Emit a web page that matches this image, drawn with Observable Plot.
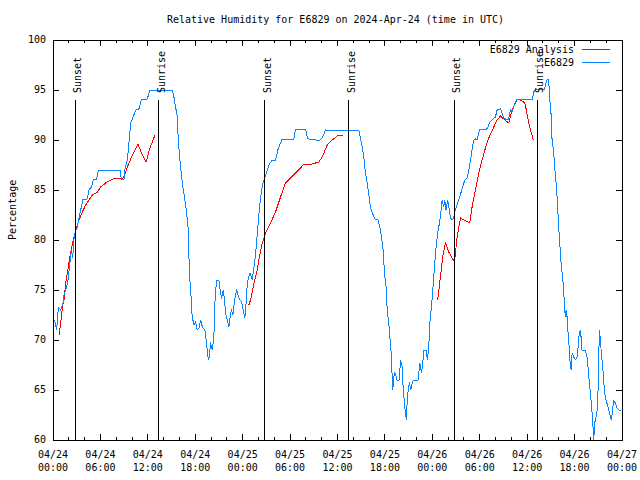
<!DOCTYPE html>
<html><head><meta charset="utf-8">
<script src="https://cdn.jsdelivr.net/npm/d3@7"></script>
<script src="https://cdn.jsdelivr.net/npm/@observablehq/plot@0.6"></script>
<style>
body{margin:0;background:#fff;}
#chart{width:640px;height:480px;}
svg{display:block;}
</style></head><body><div id="chart"></div>
<script>
const title = "Relative Humidity for E6829 on 2024-Apr-24 (time in UTC)";
const yLabel = "Percentage";
const seriesNames = ["E6829 Analysis", "E6829"];
const seriesColors = ["#ff0000", "#0a84ff"];

// time axis: hours since 2024-04-24 00:00 UTC
const xMajorHours = [0,6,12,18,24,30,36,42,48,54,60,66,72];
const xTickLabels = ["04/24\n00:00","04/24\n06:00","04/24\n12:00","04/24\n18:00",
  "04/25\n00:00","04/25\n06:00","04/25\n12:00","04/25\n18:00",
  "04/26\n00:00","04/26\n06:00","04/26\n12:00","04/26\n18:00","04/27\n00:00"];
const xMinorHours = [0,2,4,6,8,10,12,14,16,18,20,22,24,26,28,30,32,34,36,38,40,42,44,46,48,50,52,54,56,58,60,62,64,66,68,70,72];
const yTicks = [60,65,70,75,80,85,90,95,100];

// sun events
const sunHours = [2.79, 13.41, 26.81, 37.43, 50.84, 61.33];
const sunLabels = ["Sunset","Sunrise","Sunset","Sunrise","Sunset","Sunrise"];

// E6829 observations
const obsHours = [0.21,0.46,0.68,0.96,1.26,1.39,1.73,1.9,2.14,2.32,2.49,2.65,2.78,3.08,3.41,3.71,3.79,4.35,4.55,4.85,5.11,5.53,5.74,8.47,8.65,8.98,9.07,9.41,9.61,9.83,10.04,10.46,10.87,11.17,11.93,12.26,15.09,15.3,15.51,15.73,15.85,16.06,16.27,16.49,16.69,16.91,17.12,17.2,17.32,17.5,17.63,17.76,17.83,18.05,18.26,18.47,18.68,18.9,19.22,19.43,19.6,19.72,19.94,20.15,20.36,20.45,20.57,20.7,20.99,21.21,21.33,21.55,21.71,21.84,22.05,22.26,22.47,22.6,22.76,22.98,23.23,23.52,23.86,24.07,24.28,24.5,24.58,24.91,25.21,25.51,25.76,25.92,26.14,26.35,26.56,26.81,27.12,27.32,27.75,28.17,28.45,28.79,29.01,30.48,30.69,31.96,32.18,32.59,33.0,33.64,34.07,34.48,36.59,38.7,38.91,39.13,39.33,39.54,39.75,39.95,40.17,40.38,40.71,41.15,41.35,41.56,41.78,41.94,42.16,42.29,42.49,42.62,42.79,42.92,43.0,43.12,43.25,43.43,43.54,43.84,43.96,44.18,44.3,44.47,44.6,44.72,44.81,44.94,45.1,45.27,45.45,45.61,46.21,46.41,46.63,46.79,46.92,47.22,47.38,47.55,47.68,47.89,48.06,48.18,48.3,48.48,48.68,48.9,49.02,49.24,49.44,49.57,49.74,49.95,50.16,50.29,50.51,50.71,50.84,51.05,51.34,51.65,51.85,52.1,52.41,52.61,52.83,53.03,53.23,53.45,53.66,53.99,54.72,55.01,55.26,55.57,55.98,56.2,56.62,56.83,57.04,57.47,57.66,57.88,58.09,58.29,58.51,58.72,60.63,60.83,61.04,62.21,62.39,62.56,62.72,62.81,62.94,63.06,63.15,63.36,63.48,63.66,63.79,63.91,64.04,64.2,64.33,64.49,64.62,64.75,64.84,64.93,65.05,65.18,65.31,65.44,65.56,65.69,65.89,66.1,66.31,66.44,66.6,66.73,66.86,66.94,67.36,67.57,67.7,67.87,68.0,68.12,68.29,68.42,68.54,68.72,68.85,68.97,69.05,69.14,69.26,69.39,69.56,69.67,69.8,69.98,70.23,70.43,70.65,70.81,70.94,71.16,71.37,71.58,71.9];
const obsValues = [72,71,73.3,73,73.7,74.5,75.3,76,77.7,79,78.2,80,80.7,81.3,82.7,83.7,84.1,84.1,85,85.3,86,86.1,87,87,86.1,86,87,88,89.7,91.7,92.1,93,93.1,94,94.1,95,95,94.3,93.3,92.3,90,88,86.3,85,84,82.7,81,78.3,76,74,72,72,71.5,71.8,71,71.2,72,71.3,71,69.7,68.3,68,69.7,69,70.3,73.3,74.7,76,76,74.7,74.2,75,74,72.7,72,71.3,72.7,73,72.5,74,75,74.2,73.8,73,72.2,74.3,75.7,76.7,76,77.7,79.7,81.3,83.3,84.7,85.7,86.3,87,87.5,88,88,89,89.7,90.1,90.1,91.1,91.1,90.2,90,90.1,89.9,90.2,91,90.9,91,90.2,89.3,88.3,86.7,85.7,84.7,83.2,82.8,82.1,82,81.3,80.3,79,76.7,75.3,73,71.7,70.3,68.7,66.3,65,66.3,66.8,66.3,66,66,68,67.3,65.3,63.7,62.7,62,63.7,65,65.7,65,65.7,66,66,67.7,66.7,67.7,69,69,68,69.3,71.7,73.3,75,76.3,77.7,79.3,80.7,81.7,82.3,84,83.3,84,83,84,83,82.2,82,82.2,82.8,83.3,84,84.8,85.3,86,86.2,87,88,89,90,90.1,90,91.1,91,91.2,91.8,92,92.3,93,93.1,92.7,92.2,92,92.1,93,92.8,93.3,93.8,94.1,94,94.8,95.1,95.1,95.7,96.1,96.1,94.7,93.3,92.3,90,88.7,87.3,85.7,84.3,82.5,80.7,78.8,77.3,76.3,75,73,72.3,73,72.3,70.7,69.3,67.7,67,68.7,68.3,68,68.3,69.3,70.7,71,70,69,69,68.3,67.3,65.7,64.7,63.7,62,60,61.7,62.3,63,65,68,71,70,68.7,67.3,66,64.7,64,63.3,62.7,62,63,64,63.7,63.2,63,63];

// E6829 Analysis (three segments)
const ana1Hours = [0.76,0.97,1.19,1.39,1.61,1.82,2.02,2.23,2.49,2.78,3.28,3.71,4.13,4.55,4.98,5.62,6.03,6.66,7.29,7.93,8.9,9.41,10.04,10.74,11.3,11.81,12.26,12.86];
const ana1Values = [70.5,71.7,73.3,74,75.7,76.7,77.8,78.7,79.7,80.7,82,82.8,83.5,84,84.5,84.8,85.3,85.7,86,86.2,86.2,87.3,88.5,89.6,88.5,87.8,89.2,90.4];
const ana2Hours = [24.78,25.0,25.42,25.85,26.05,26.48,26.9,27.52,28.16,28.79,29.42,30.06,30.69,31.33,31.74,32.81,33.64,34.07,34.7,35.33,35.96,36.72];
const ana2Values = [73.5,74,75.6,77,78,79.7,80.7,81.7,82.8,84.3,85.7,86.2,86.7,87.2,87.6,87.6,87.8,88.3,89.5,90,90.4,90.5];
const ana3Hours = [48.68,49.02,49.31,49.66,50.07,50.51,50.8,51.14,51.56,51.98,52.74,53.03,53.45,53.87,54.3,54.72,55.14,55.77,56.2,56.62,57.04,57.66,58.09,58.51,58.72,59.36,59.69,59.9,60.07,60.32,60.71,60.79];
const ana3Values = [74,76.3,78.3,79.7,78.8,78.2,77.8,80.3,82.2,82,81.7,83.3,85,86.7,88,89.2,90.2,91.3,92,92.4,92.1,91.7,93,93.7,94.1,93.9,93.7,93,92.2,91.3,90.2,90];

const t0 = Date.UTC(2024, 3, 24);
const toDate = h => new Date(t0 + h * 3600e3);

const obs = obsHours.map((h, i) => ({t: toDate(h), v: obsValues[i]}));
const ana = [
  ...ana1Hours.map((h, i) => ({t: toDate(h), v: ana1Values[i], seg: 1})),
  ...ana2Hours.map((h, i) => ({t: toDate(h), v: ana2Values[i], seg: 2})),
  ...ana3Hours.map((h, i) => ({t: toDate(h), v: ana3Values[i], seg: 3}))
];
const sun = sunHours.map((h, i) => ({t: toDate(h), label: sunLabels[i]}));
const majorDates = xMajorHours.map(toDate);
const minorDates = xMinorHours.map(toDate);
const labelFor = d => xTickLabels[xMajorHours.indexOf(Math.round((d - t0) / 3600e3))];

const W = 640, H = 480;
const mL = 52.5, mR = 18.5, mT = 39.5, mB = 40.5;
const fW = W - mL - mR, fH = H - mT - mB;
const font = "DejaVu Sans Mono";

const plot = Plot.plot({
  width: W, height: H,
  marginLeft: mL, marginRight: mR, marginTop: mT, marginBottom: mB,
  style: {fontFamily: font, fontSize: "10px", background: "#fff", color: "#000"},
  x: {type: "utc", domain: [toDate(0), toDate(72)], axis: null, label: null},
  y: {domain: [60, 100], axis: null, label: null},
  marks: [
    Plot.line(ana, {x: "t", y: "v", z: "seg", stroke: seriesColors[0], strokeWidth: 1, shapeRendering: "crispEdges"}),
    Plot.line(obs, {x: "t", y: "v", stroke: seriesColors[1], strokeWidth: 1, shapeRendering: "crispEdges"}),
    Plot.ruleX(sun, {x: "t", y1: 60, y2: 94, stroke: "#000", shapeRendering: "crispEdges"}),
    Plot.text(sun, {x: "t", y: 94, text: "label", rotate: -90, textAnchor: "start", lineAnchor: "middle", dx: 2.5, dy: -7, fill: "#000"}),
    // ticks (inward, mirrored)
    Plot.tickX(minorDates, {x: d => d, insetTop: fH - 3, stroke: "#000", shapeRendering: "crispEdges"}),
    Plot.tickX(minorDates, {x: d => d, insetBottom: fH - 3, stroke: "#000", shapeRendering: "crispEdges"}),
    Plot.tickX(majorDates, {x: d => d, insetTop: fH - 6, stroke: "#000", shapeRendering: "crispEdges"}),
    Plot.tickX(majorDates, {x: d => d, insetBottom: fH - 6, stroke: "#000", shapeRendering: "crispEdges"}),
    Plot.tickY(yTicks, {y: d => d, insetRight: fW - 6, stroke: "#000", shapeRendering: "crispEdges"}),
    Plot.tickY(yTicks, {y: d => d, insetLeft: fW - 6, stroke: "#000", shapeRendering: "crispEdges"}),
    Plot.axisX(majorDates, {anchor: "bottom", label: null, tickSize: 0, tickPadding: 8, tickFormat: labelFor, lineHeight: 1.35, fill: "#000"}),
    Plot.axisY(yTicks, {anchor: "left", label: null, tickSize: 0, tickPadding: 7, tickFormat: d => String(d), fill: "#000"}),
    Plot.frame({stroke: "#000", shapeRendering: "crispEdges"}),
    Plot.text([title], {text: d => d, frameAnchor: "top", dx: -2, dy: -20.5, lineAnchor: "middle", fill: "#000"}),
    Plot.text([yLabel], {text: d => d, frameAnchor: "left", dx: -40.5, rotate: -90, lineAnchor: "middle", fill: "#000"})
  ]
});

// legend (top-right, inside the frame)
const svg = d3.select(plot);
const lg = svg.append("g").attr("font-family", font).attr("font-size", 10);
seriesNames.forEach((name, i) => {
  const y = mT + 10 + i * 13;
  lg.append("text").attr("x", W - mR - 47.5).attr("y", y).attr("dy", "0.38em")
    .attr("text-anchor", "end").attr("fill", "#000").text(name);
  lg.append("line").attr("x1", W - mR - 40).attr("x2", W - mR - 11.5)
    .attr("y1", y).attr("y2", y).attr("stroke", seriesColors[i])
    .attr("shape-rendering", "crispEdges");
});

document.getElementById("chart").appendChild(plot);
</script></body></html>
